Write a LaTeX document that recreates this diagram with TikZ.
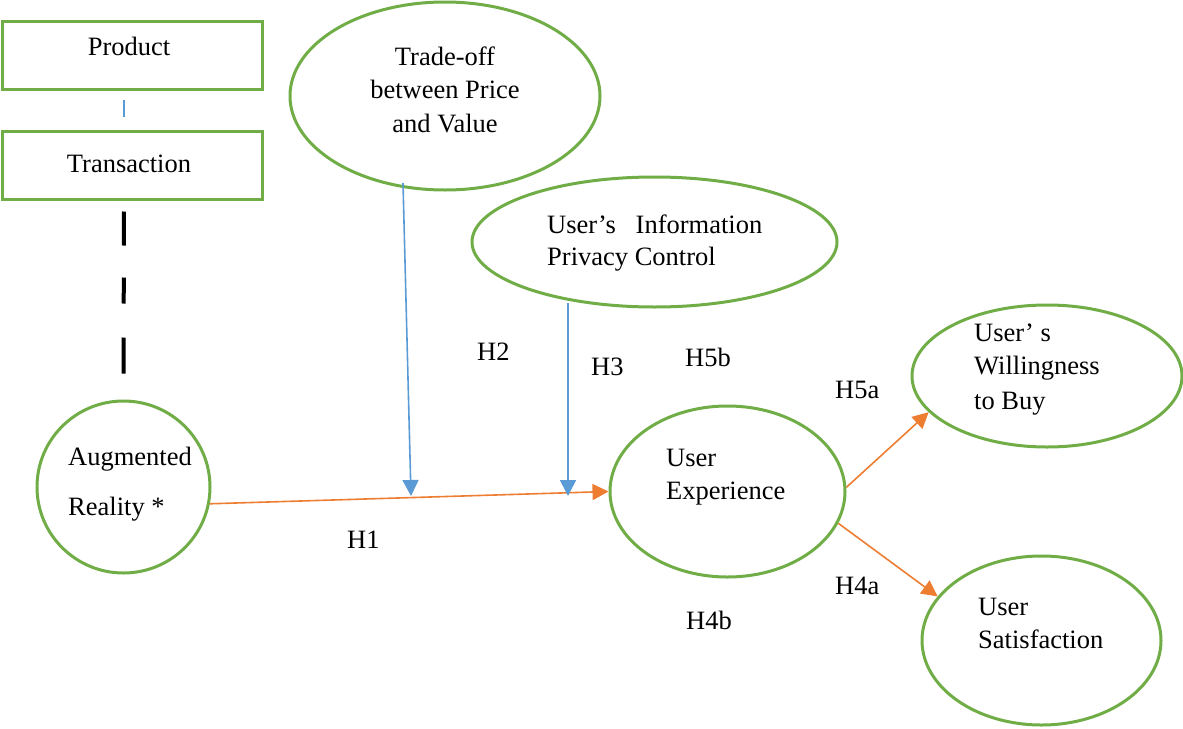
\documentclass[tikz,border=0pt]{standalone}
\usepackage{fontspec}
\setmainfont{Liberation Serif}
\usetikzlibrary{arrows.meta,shapes.geometric,calc}
\definecolor{grn}{HTML}{70AD47}
\definecolor{blu}{HTML}{5B9BD5}
\definecolor{org}{HTML}{ED7D31}
\tikzset{
  construct/.style={ellipse, draw=grn, line width=3pt, inner sep=0pt},
  framebox/.style={rectangle, draw=grn, line width=3pt, inner sep=0pt},
  lbl/.style={inner sep=0pt, font=\fontsize{26.5}{33}\selectfont},
  moderator/.style={draw=blu, line width=1.6pt, -{Triangle[length=16pt,width=16pt]}},
  effect/.style={draw=org, line width=1.6pt, -{Triangle[length=16pt,width=16pt]}},
}
\begin{document}
\begin{tikzpicture}[x=1pt,y=-1pt]
\useasboundingbox (0,0) rectangle (1183,728);

% boxes on the left
\node[framebox, minimum width=260pt, minimum height=68pt] (prod) at (132,55) {};
\node[framebox, minimum width=260pt, minimum height=68pt] (trans) at (132,165) {};
\node[lbl, anchor=base] (prodtxt) at (129,55) {Product};
\node[lbl, anchor=base] (transtxt) at (129,172) {Transaction};

% constructs
\node[construct, minimum width=173pt, minimum height=172pt] (ar) at (123.5,487) {};
\node[construct, minimum width=310pt, minimum height=188pt] (tpv) at (445,96) {};
\node[construct, minimum width=365pt, minimum height=130pt] (ipc) at (654.5,242) {};
\node[construct, minimum width=235pt, minimum height=171pt] (ue) at (727.5,491.5) {};
\node[construct, minimum width=270pt, minimum height=142pt] (wtb) at (1047,376) {};
\node[construct, minimum width=239pt, minimum height=169pt] (us) at (1041.5,640.5) {};

% construct texts
\node[lbl, anchor=base west] (ar1) at (68,465) {Augmented};
\node[lbl, anchor=base west] (ar2) at (68,515) {Reality *};
\node[lbl, anchor=base] (tpv1) at (445,65) {Trade-off};
\node[lbl, anchor=base] (tpv2) at (445,98) {between Price};
\node[lbl, anchor=base] (tpv3) at (445,132) {and Value};
\node[lbl, anchor=base west] (ipc1) at (547,233) {User’s\ \ \ Information};
\node[lbl, anchor=base west] (ipc2) at (547,265) {Privacy Control};
\node[lbl, anchor=base west] (ue1) at (666,466) {User};
\node[lbl, anchor=base west] (ue2) at (666,499) {Experience};
\node[lbl, anchor=base west] (wtb1) at (974,341) {User’ s};
\node[lbl, anchor=base west] (wtb2) at (974,374) {Willingness};
\node[lbl, anchor=base west] (wtb3) at (974,409) {to Buy};
\node[lbl, anchor=base west] (us1) at (978,615) {User};
\node[lbl, anchor=base west] (us2) at (978,648) {Satisfaction};

% hypothesis labels
\node[lbl, anchor=base west] (h1) at (347,548) {H1};
\node[lbl, anchor=base west] (h2) at (477,360) {H2};
\node[lbl, anchor=base west] (h3) at (591,375) {H3};
\node[lbl, anchor=base west] (h5b) at (685,366) {H5b};
\node[lbl, anchor=base west] (h5a) at (835,398) {H5a};
\node[lbl, anchor=base west] (h4a) at (835,594) {H4a};
\node[lbl, anchor=base west] (h4b) at (686,629) {H4b};

% connector ends
\coordinate (tpvfoot) at (403,183);
\coordinate (tpvtip) at (411,496);
\coordinate (ipcfoot) at (568,303);
\coordinate (ipctip) at (568,496);

% links between the boxes and augmented reality
\draw[blu, line width=1.5pt] ($(prod.south)+(-8,9)$) -- ($(trans.north)+(-8,-13)$);
\draw[black, line width=4pt, dash pattern=on 34pt off 32pt on 26pt off 34pt on 39pt]
  ($(trans.south)+(-8,11)$) -- ($(ar.north)+(0,-26)$);

% main effect and outcomes
\draw[effect] (ar.-11) -- (ue.180);
\draw[effect] (ue.2) -- (wtb.197);
\draw[effect] (ue.-16) -- (us.157);

% moderators
\draw[moderator] (tpvfoot) -- (tpvtip);
\draw[moderator] (ipcfoot) -- (ipctip);
\end{tikzpicture}
\end{document}
